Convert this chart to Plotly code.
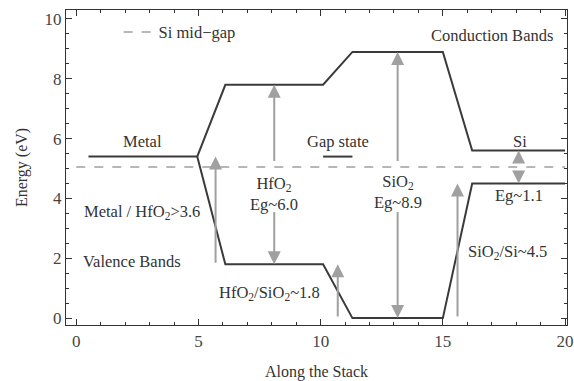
import plotly.graph_objects as go

# ---- data ----
metal_x = [0.5, 4.95]
metal_y = [5.4, 5.4]
cb_x = [4.95, 6.1, 10.1, 11.3, 15.0, 16.2, 20.0]
cb_y = [5.4, 7.8, 7.8, 8.9, 8.9, 5.6, 5.6]
vb_x = [4.95, 6.1, 10.1, 11.3, 15.0, 16.2, 20.0]
vb_y = [5.4, 1.8, 1.8, 0.0, 0.0, 4.5, 4.5]
midgap_x = [0.0, 20.0]
midgap_y = [5.05, 5.05]
gapstate_x = [10.1, 11.3]
gapstate_y = [5.4, 5.4]

# arrows: x, from-y, to-y (tip)
arrow_x = [5.7, 8.1, 8.1, 13.15, 13.15, 10.7, 15.6, 18.1, 18.1]
arrow_from = [1.8, 5.2, 3.6, 5.2, 3.6, 0.0, 0.0, 5.15, 4.95]
arrow_to = [5.4, 7.8, 1.8, 8.9, 0.0, 1.8, 4.5, 5.6, 4.5]

# labels: text, x, y
label_text = ["Metal", "Gap state", "Conduction Bands", "Si",
              "HfO<sub>2</sub><br>Eg~6.0", "SiO<sub>2</sub><br>Eg~8.9", "Eg~1.1",
              "Metal / HfO<sub>2</sub>>3.6", "Valence Bands",
              "HfO<sub>2</sub>/SiO<sub>2</sub>~1.8", "SiO<sub>2</sub>/Si~4.5"]
label_x = [2.7, 10.7, 17.0, 18.15, 8.1, 13.15, 18.1, 2.7, 2.3, 7.9, 17.65]
label_y = [5.9, 5.9, 9.45, 5.9, 4.15, 4.2, 4.1, 3.55, 1.9, 0.85, 2.2]

dark = "#3a3a3a"
gray = "#a0a0a0"
font = "Liberation Serif"

fig = go.Figure()
fig.add_trace(go.Scatter(x=midgap_x, y=midgap_y, mode="lines", name="Si mid\u2212gap",
                         line=dict(color=gray, width=1.6, dash="dash")))
for xs, ys in [(metal_x, metal_y), (cb_x, cb_y), (vb_x, vb_y), (gapstate_x, gapstate_y)]:
    fig.add_trace(go.Scatter(x=xs, y=ys, mode="lines", showlegend=False,
                             line=dict(color=dark, width=2)))

annotations = []
for ax_, a0, a1 in zip(arrow_x, arrow_from, arrow_to):
    annotations.append(dict(x=ax_, y=a1, ax=ax_, ay=a0, xref="x", yref="y",
                            axref="x", ayref="y", showarrow=True, text="",
                            arrowhead=2, arrowsize=1.3, arrowwidth=2, arrowcolor=gray))
for t, lx, ly in zip(label_text, label_x, label_y):
    annotations.append(dict(x=lx, y=ly, xref="x", yref="y", text=t, showarrow=False,
                            font=dict(family=font, size=16.5, color="#333")))

axis_common = dict(showline=True, mirror="allticks", linecolor="#333", linewidth=1.2,
                   ticks="inside", ticklen=6, tickcolor="#333", showgrid=False, zeroline=False,
                   automargin=False,
                   tickfont=dict(family=font, size=17, color="#444"))

fig.update_layout(
    width=574, height=381,
    margin=dict(l=66, r=7, t=10, b=56),
    plot_bgcolor="white", paper_bgcolor="white",
    annotations=annotations,
    showlegend=True,
    legend=dict(x=0.105, y=0.985, xanchor="left", yanchor="top", bgcolor="rgba(0,0,0,0)",
                font=dict(family=font, size=16.5, color="#333")),
    xaxis=dict(range=[-0.42, 20.08], tickvals=[0, 5, 10, 15, 20],
               minor=dict(dtick=1, ticks="inside", ticklen=3, tickcolor="#333"),
               title=dict(text="Along the Stack", font=dict(family=font, size=16, color="#333"),
                          standoff=17),
               **axis_common),
    yaxis=dict(range=[-0.23, 10.3], tickvals=[0, 2, 4, 6, 8, 10],
               minor=dict(dtick=0.5, ticks="inside", ticklen=3, tickcolor="#333"),
               title=dict(text="Energy (eV)", font=dict(family=font, size=16, color="#333"),
                          standoff=12),
               **axis_common),
)

fig.write_html("out.html", config={"displayModeBar": False},
               post_script="document.body.style.margin='0';document.body.style.overflow='hidden';")
